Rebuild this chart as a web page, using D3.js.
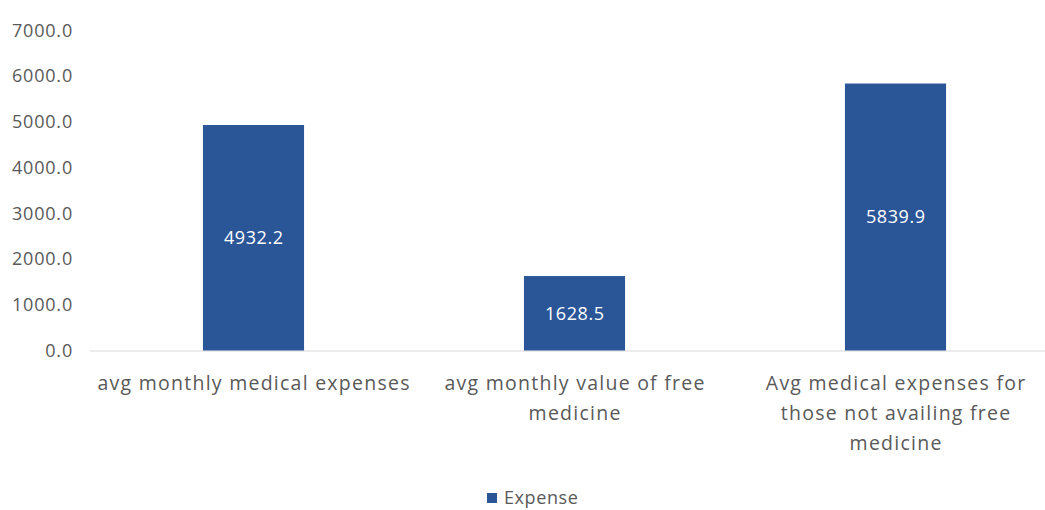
<!DOCTYPE html>
<html>
<head>
<meta charset="utf-8">
<script src="https://cdn.jsdelivr.net/npm/d3@7"></script>
<style>
  html, body { margin: 0; padding: 0; background: #fff; }
  svg { display: block; }
  text { font-family: "Open Sans", "Noto Sans", sans-serif; }
</style>
</head>
<body>
<svg id="chart" width="1045" height="510"></svg>
<script>
const categories = [
  "avg monthly medical expenses",
  "avg monthly value of free\nmedicine",
  "Avg medical expenses for\nthose not availing free\nmedicine"
];
const expense = [4932.2, 1628.5, 5839.9];
const yTicks = [0, 1000, 2000, 3000, 4000, 5000, 6000, 7000];
const seriesName = "Expense";

const svg = d3.select("#chart");
const mLeft = 93, mRight = 1056, mTop = 30.5, mBottom = 350.5;
const barColor = "#2a5597";
const textColor = "#595959";

const x = d3.scaleBand().domain(categories).range([mLeft, mRight]).paddingInner(0.685).paddingOuter(0.3425);
const y = d3.scaleLinear().domain([0, 7000]).range([mBottom, mTop]);

// y axis labels
const yAxis = d3.axisLeft(y).tickValues(yTicks).tickFormat(d3.format(".1f")).tickSize(0).tickPadding(0);
const yg = svg.append("g").attr("transform", `translate(73,0)`).call(yAxis);
yg.select(".domain").remove();
yg.selectAll("text").attr("fill", textColor)
  .style("font-size", "18px").style("letter-spacing", "0.8px")
  .style("font-family", "'Open Sans', sans-serif");

// baseline
svg.append("line").attr("x1", 90).attr("x2", 1045).attr("y1", y(0)+0.5).attr("y2", y(0)+0.5)
  .attr("stroke", "#d9d9d9").attr("stroke-width", 1);

// bars
svg.append("g").selectAll("rect").data(categories).join("rect")
  .attr("x", d => x(d))
  .attr("y", (d,i) => y(expense[i]))
  .attr("width", x.bandwidth())
  .attr("height", (d,i) => y(0) - y(expense[i]))
  .attr("fill", barColor);

// data labels
svg.append("g").selectAll("text").data(categories).join("text")
  .attr("x", d => x(d) + x.bandwidth()/2 + 0.3)
  .attr("y", (d,i) => (y(expense[i]) + y(0))/2)
  .attr("dy", "0.35em")
  .attr("text-anchor", "middle")
  .attr("fill", "#ffffff")
  .style("font-size", "18px").style("letter-spacing", "0.6px")
  .text((d,i) => d3.format(".1f")(expense[i]));

// category labels
const xAxis = d3.axisBottom(x).tickSize(0).tickPadding(0);
const xg = svg.append("g").attr("transform", `translate(0,${y(0)})`).call(xAxis);
xg.select(".domain").remove();
xg.selectAll("text").each(function(d) {
  const t = d3.select(this);
  t.text(null).attr("y", 0).attr("dy", null)
   .attr("fill", textColor)
   .style("font-size", "19.5px").style("letter-spacing", "1.25px")
   .style("font-family", "'Open Sans', sans-serif");
  d.split("\n").forEach((line, i) => {
    t.append("tspan").attr("x", 0.6).attr("y", 39 + i*30).text(line);
  });
});

// legend
const lg = svg.append("g");
lg.append("rect").attr("x", 487).attr("y", 493).attr("width", 10).attr("height", 10).attr("fill", barColor);
lg.append("text").attr("x", 504).attr("y", 498).attr("dy", "0.35em").attr("fill", textColor)
  .style("font-size", "18px").style("letter-spacing", "0.6px").text(seriesName);
</script>
</body>
</html>
